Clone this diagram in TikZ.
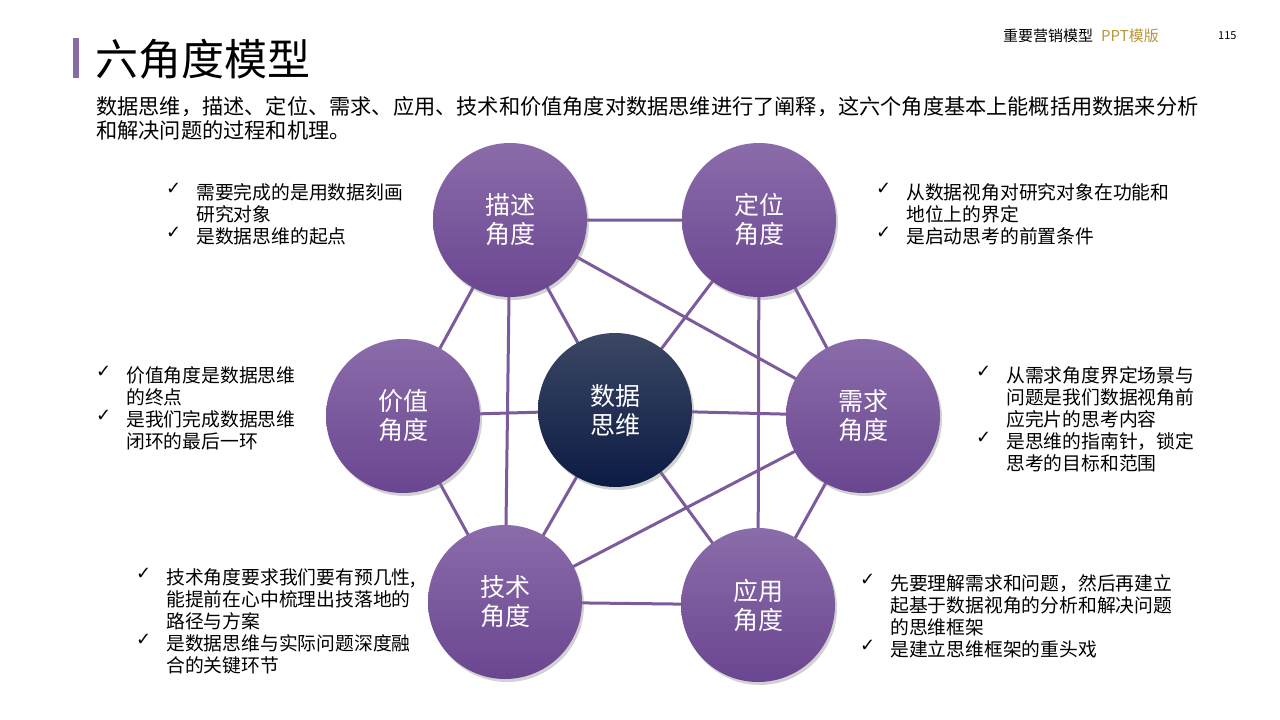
\documentclass[tikz,border=0pt]{standalone}
\usepackage{fontspec}
\setmainfont{Noto Sans CJK SC}
\newfontfamily\symf{DejaVu Sans}
\usetikzlibrary{shadows}
\definecolor{lnc}{HTML}{7B5B9C}
\definecolor{ptop}{HTML}{8B6CAA}
\definecolor{pbot}{HTML}{6A4690}
\definecolor{ctop}{HTML}{3C4763}
\definecolor{cbot}{HTML}{0C1B45}
\definecolor{gold}{HTML}{B8963E}
\tikzset{
 ball/.style={circle,minimum size=154pt,inner sep=0pt,top color=ptop,bottom color=pbot,draw=none,
   drop shadow={shadow xshift=2pt,shadow yshift=-3pt,opacity=0.35},text=white,font=\fontsize{25}{29}\selectfont,align=center},
 core/.style={ball,top color=ctop,bottom color=cbot},
 link/.style={draw=lnc,line width=3pt},
 blist/.style={anchor=north west,align=left,font=\fontsize{18.8}{22.2}\selectfont,inner sep=0pt},
 ck/.style={anchor=north west,inner sep=0pt,font=\symf\fontsize{18}{22}\selectfont}
}
\begin{document}
\begin{tikzpicture}[x=1pt,y=-1pt]
\useasboundingbox (0,0) rectangle (1280,720);
\fill[white] (0,0) rectangle (1280,720);
\fill[lnc!90] (73,38) rectangle (79,78);
\node[anchor=west,inner sep=0pt,font=\fontsize{43}{46}\selectfont] (title) at (95,59) {六角度模型};
\node[anchor=west,inner sep=0pt,font=\fontsize{15}{17}\selectfont] (hd) at (1003,36) {重要营销模型\hspace{8pt}\textcolor{gold}{PPT模版}};
\node[anchor=west,inner sep=0pt,font=\fontsize{11}{13}\selectfont] (pg) at (1218,36) {115};
\node[anchor=north west,inner sep=0pt,align=left,font=\fontsize{21.2}{24}\selectfont] (para) at (96,96)
 {数据思维，描述、定位、需求、应用、技术和价值角度对数据思维进行了阐释，这六个角度基本上能概括用数据来分析\\和解决问题的过程和机理。};
\coordinate (pA) at (510,220);
\coordinate (pB) at (759,220);
\coordinate (pC) at (403,416);
\coordinate (pO) at (615,410);
\coordinate (pD) at (863,416);
\coordinate (pE) at (505,602);
\coordinate (pF) at (758,605);
\draw[link] (pA)--(pB) (pA)--(pC) (pA)--(pE) (pA)--(pO) (pA)--(pD)
 (pB)--(pD) (pB)--(pO) (pB)--(pF) (pC)--(pO) (pC)--(pE) (pO)--(pD) (pO)--(pE) (pO)--(pF)
 (pD)--(pE) (pD)--(pF) (pE)--(pF);
\node[ball] (A) at (pA) {描述\\角度};
\node[ball] (B) at (pB) {定位\\角度};
\node[ball] (C) at (pC) {价值\\角度};
\node[core] (O) at (pO) {数据\\思维};
\node[ball] (D) at (pD) {需求\\角度};
\node[ball] (E) at (pE) {技术\\角度};
\node[ball] (F) at (pF) {应用\\角度};
\node[blist] (t1) at (196,183) {需要完成的是用数据刻画\\研究对象\\是数据思维的起点};
\node[ck] at (166,183) {✓}; \node[ck] at (166,227) {✓};
\node[blist] (t2) at (906,183) {从数据视角对研究对象在功能和\\地位上的界定\\是启动思考的前置条件};
\node[ck] at (876,183) {✓}; \node[ck] at (876,227) {✓};
\node[blist] (t3) at (126,366) {价值角度是数据思维\\的终点\\是我们完成数据思维\\闭环的最后一环};
\node[ck] at (96,366) {✓}; \node[ck] at (96,410) {✓};
\node[blist] (t4) at (1006,366) {从需求角度界定场景与\\问题是我们数据视角前\\应完片的思考内容\\是思维的指南针，锁定\\思考的目标和范围};
\node[ck] at (976,366) {✓}; \node[ck] at (976,432) {✓};
\node[blist] (t5) at (166,568) {技术角度要求我们要有预几性,\\能提前在心中梳理出技落地的\\路径与方案\\是数据思维与实际问题深度融\\合的关键环节};
\node[ck] at (136,568) {✓}; \node[ck] at (136,634) {✓};
\node[blist] (t6) at (890,574) {先要理解需求和问题，然后再建立\\起基于数据视角的分析和解决问题\\的思维框架\\是建立思维框架的重头戏};
\node[ck] at (860,574) {✓}; \node[ck] at (860,640) {✓};
\end{tikzpicture}
\end{document}
